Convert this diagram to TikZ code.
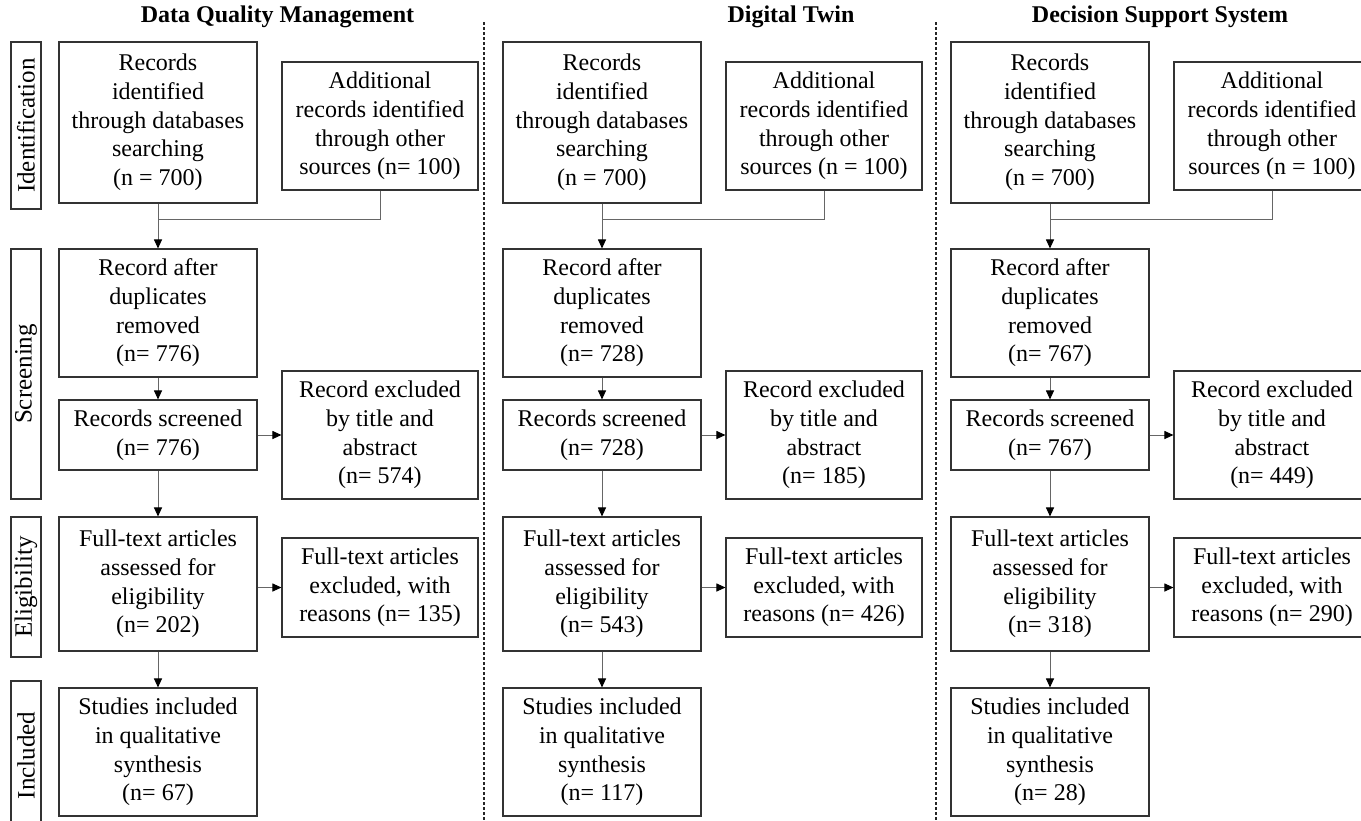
\documentclass[tikz,border=0pt]{standalone}
\usepackage{fontspec}
\setmainfont{Liberation Serif}
\usetikzlibrary{arrows.meta}
\begin{document}
\begin{tikzpicture}[x=1pt,y=-1pt,
  txt/.style={font=\fontsize{24}{28.7}\selectfont},
  box/.style={txt,draw=black!80,line width=1.1pt,align=center,inner sep=0pt},
  wide/.style={box,minimum width=198pt},
  phase/.style={box,rotate=90,minimum height=30pt,font=\fontsize{25}{28}\selectfont},
  head/.style={font=\fontsize{24}{28}\selectfont\bfseries},
  conn/.style={draw=black!60,line width=1pt},
  arr/.style={conn,-{Triangle[length=9pt,width=8pt,color=black]}},
  divider/.style={draw=black!85,line width=1.2pt,dash pattern=on 3pt off 2pt}
]
\useasboundingbox (0,0) rectangle (1361,820);

% column titles
\node[head] (t1) at (277.5,17) {Data Quality Management};
\node[head] (t2) at (791,17) {Digital Twin};
\node[head] (t3) at (1160,17) {Decision Support System};

% dashed separators between the three reviews
\draw[divider] (484,22) -- (484,822);
\draw[divider] (936,22) -- (936,822);

% phase labels
\node[phase,minimum width=167pt] (pid)  at (26,125.5) {Identification};
\node[phase,minimum width=250pt] (pscr) at (26,374)   {Screening};
\node[phase,minimum width=140pt] (pel)  at (26,587)   {Eligibility};
\node[phase,minimum width=149pt] (pinc) at (26,755.5) {Included};

% one PRISMA flow per review
\foreach \dx/\nadd/\ndup/\nexc/\nft/\nftx/\ninc [count=\c] in
  {0/{(n= 100)}/776/574/202/135/67,
   444/{(n = 100)}/728/185/543/426/117,
   892/{(n = 100)}/767/449/318/290/28}
{
  \begin{scope}[xshift=\dx pt]
    \node[wide,minimum height=161pt] (id\c) at (158,122.5)
      {Records\\identified\\through databases\\searching\\(n = 700)};
    \node[box,minimum width=196pt,minimum height=128pt] (add\c) at (380,126)
      {Additional\\records identified\\through other\\sources \nadd};
    \node[wide,minimum height=128pt] (dup\c) at (158,313)
      {Record after\\duplicates\\removed\\(n= \ndup)};
    \node[wide,minimum height=70pt] (scr\c) at (158,435)
      {Records screened\\(n= \ndup)};
    \node[box,minimum width=196pt,minimum height=128pt] (exc\c) at (380,435)
      {Record excluded\\by title and\\abstract\\(n= \nexc)};
    \node[wide,minimum height=134pt] (ft\c) at (158,584)
      {Full-text articles\\assessed for\\eligibility\\(n= \nft)};
    \node[box,minimum width=196pt,minimum height=99pt] (ftx\c) at (380,587.5)
      {Full-text articles\\excluded, with\\reasons (n= \nftx)};
    \node[wide,minimum height=128pt] (inc\c) at (158,752)
      {Studies included\\in qualitative\\synthesis\\(n= \ninc)};

    \path (id\c.south) ++(0,16) coordinate (j\c);
    \draw[conn] (add\c.south) |- (j\c);
    \draw[arr] (id\c.south) -- (dup\c.north);
    \draw[arr] (dup\c.south) -- (scr\c.north);
    \draw[arr] (scr\c.east) -- (exc\c.west);
    \draw[arr] (scr\c.south) -- (ft\c.north);
    \draw[arr] (ftx\c.west -| ft\c.east) -- (ftx\c.west);
    \draw[arr] (ft\c.south) -- (inc\c.north);
  \end{scope}
}
\end{tikzpicture}
\end{document}
